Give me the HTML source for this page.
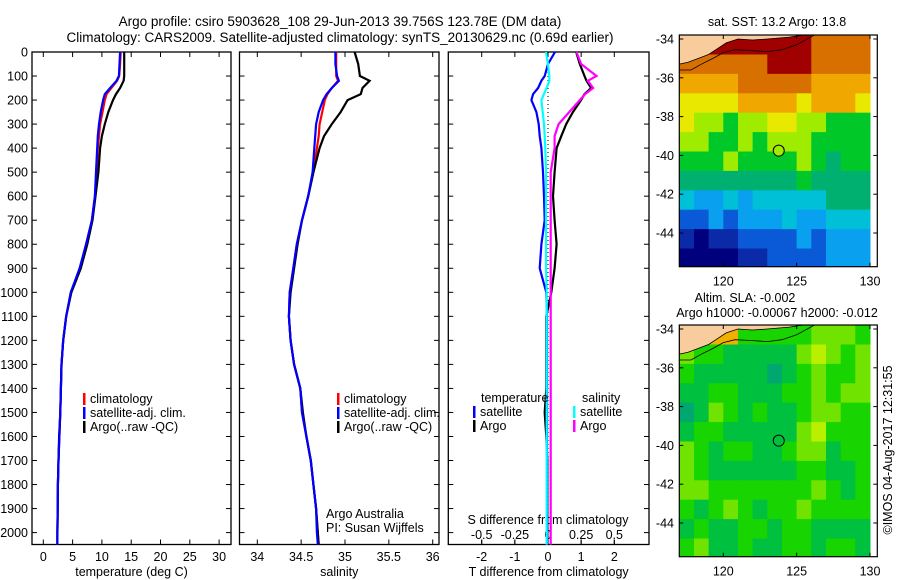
<!DOCTYPE html>
<html><head><meta charset="utf-8">
<style>
html,body{margin:0;padding:0;background:#fff;}
svg{display:block;font-family:"Liberation Sans",sans-serif;}
text{font-size:12.5px;fill:#000;}
</style></head>
<body>
<svg id="fig" width="900" height="580" viewBox="0 0 900 580">
<text x="340" y="26" text-anchor="middle" style="font-size:13.5px">Argo profile: csiro 5903628_108 29-Jun-2013 39.756S 123.78E (DM data)</text>
<text x="340" y="42" text-anchor="middle" style="font-size:13.5px">Climatology: CARS2009. Satellite-adjusted climatology: synTS_20130629.nc (0.69d earlier)</text>
<g id="g1"></g>
<g id="g2"></g>
<g id="g3"></g>
<g id="m1"></g>
<g id="m2"></g>
<text transform="translate(892,450) rotate(-90)" text-anchor="middle">©IMOS 04-Aug-2017 12:31:55</text>
</svg>
<script>
// ---- profile data ----
const depths = [0,50,100,120,150,175,200,250,300,350,400,500,600,700,800,900,1000,1100,1200,1300,1400,1500,1600,1700,1800,1900,2000,2050];
const tempClim = [13.2,13.1,12.95,12.6,11.6,10.8,10.5,10.1,9.7,9.5,9.3,9.1,8.8,8.3,7.3,6.3,4.7,3.9,3.4,3.1,3.0,2.9,2.75,2.6,2.5,2.45,2.4,2.4];
const tempSat  = [13.1,13.0,12.9,12.5,11.4,10.5,10.2,9.8,9.5,9.3,9.2,9.0,8.8,8.3,7.3,6.2,4.7,3.9,3.4,3.1,3.0,2.9,2.75,2.6,2.5,2.45,2.4,2.4];
const tempArgo = [13.8,13.8,13.8,13.7,13.1,12.4,11.9,11.1,10.5,10.0,9.7,9.4,8.9,8.4,7.5,6.4,4.8,3.9,3.4,3.1,3.0,2.9,2.7,2.6,2.5,2.45,2.4,2.4];
const salClim  = [34.90,34.90,34.90,34.92,34.85,34.80,34.77,34.74,34.71,34.70,34.68,34.64,34.58,34.51,34.45,34.41,34.37,34.36,34.38,34.42,34.49,34.51,34.56,34.61,34.64,34.67,34.69,34.70];
const salSat   = [34.89,34.89,34.91,34.93,34.85,34.79,34.75,34.70,34.67,34.66,34.65,34.63,34.58,34.51,34.45,34.41,34.37,34.36,34.38,34.42,34.49,34.51,34.56,34.61,34.64,34.67,34.68,34.69];
const salArgo  = [35.11,35.15,35.17,35.28,35.20,35.18,35.03,34.95,34.85,34.76,34.71,34.64,34.58,34.51,34.46,34.42,34.38,34.36,34.38,34.42,34.49,34.52,34.56,34.61,34.64,34.67,34.69,34.70];
const dTsat  = [0.21,0,-0.1,-0.2,-0.3,-0.45,-0.5,-0.35,-0.28,-0.25,-0.2,-0.15,-0.12,-0.1,-0.2,-0.25,-0.05,-0.03,-0.03,-0.03,-0.03,-0.03,-0.03,-0.03,-0.03,-0.03,-0.03,-0.03];
const dTargo = [0.85,0.96,1.1,1.16,1.3,1.1,1.0,0.75,0.55,0.4,0.26,0.2,0.15,0.2,0.26,0.2,0.1,-0.05,-0.05,-0.05,-0.05,-0.1,-0.05,-0.02,-0.02,-0.02,-0.02,-0.02];
const dSsat  = [-0.015,0,0.01,0.01,-0.01,-0.03,-0.05,-0.04,-0.03,-0.025,-0.02,-0.015,-0.015,-0.015,-0.015,-0.015,-0.01,-0.01,-0.01,-0.01,-0.01,-0.01,-0.01,-0.01,-0.01,-0.01,-0.01,-0.01];
const dSargo = [0.215,0.25,0.366,0.30,0.34,0.28,0.24,0.16,0.08,0.05,0.05,0.02,0.02,0.02,0.02,0.02,0.02,0.02,0.02,0.02,0.02,0.02,0.02,0.02,0.02,0.02,0.02,0.02];
const depthTicks = [0,100,200,300,400,500,600,700,800,900,1000,1100,1200,1300,1400,1500,1600,1700,1800,1900,2000];
const tempTicks = [0,5,10,15,20,25,30];
const salTicks = [34,34.5,35,35.5,36];
const dTTicks = [-2,-1,0,1,2];
const dSTicks = [-0.5,-0.25,0,0.25,0.5];
const dSTickLabels = ["-0.5","-0.25","0","0.25","0.5"];
// ---- map data (colour indices, 1-degree cells from 117E, 33.8S) ----
const sstRows = [
[11,11,11,11,11,11,11,11,11,10,10,10,10],
[10,10,10,10,10,10,11,11,11,10,10,10,10],
[9,9,9,9,10,10,10,10,10,9,9,9,9],
[8,8,8,8,9,9,9,9,8,9,9,9,8],
[8,7,7,6,7,7,8,8,7,7,6,6,6],
[7,7,6,6,7,6,7,7,7,6,6,6,6],
[6,6,6,7,6,6,6,6,7,6,5,6,6],
[5,5,5,5,5,5,5,5,6,5,5,5,5],
[4,3,3,4,3,4,4,4,4,4,5,5,5],
[2,2,3,2,3,3,3,4,3,3,4,4,4],
[1,0,1,1,2,2,2,2,3,2,3,3,3],
[0,0,0,0,1,1,2,2,2,2,3,3,3]];
const slaRows = [
[5,5,5,5,2,2,2,2,2,3,3,3,2],
[3,2,2,1,1,1,1,1,3,4,3,2,3],
[2,1,1,1,1,1,0,1,2,3,2,2,3],
[1,1,2,2,1,1,1,2,2,3,2,3,3],
[0,1,3,2,1,2,1,1,2,3,3,2,2],
[1,2,2,1,1,1,1,1,3,4,2,2,2],
[3,2,1,2,2,1,1,2,3,3,1,2,2],
[3,2,1,1,1,1,1,1,2,2,1,1,2],
[3,3,2,2,2,2,2,2,2,3,2,1,2],
[2,1,2,3,2,1,2,2,3,2,2,2,2],
[1,2,1,1,2,2,1,2,2,1,1,1,1],
[2,3,1,1,2,1,1,2,2,1,2,2,1]];
const sstPalette = ["#00007f","#0a2aa8","#0a5ad8","#0aa0f0","#00c0d8","#00b070","#00c828","#a0ec00","#e8e800","#f0a800","#d87000","#a00000"];
const slaPalette = ["#00a870","#00c040","#18d400","#70e400","#b8f000","#f0b000"];
const mapLonTicks = [120,125,130];
const mapLatTicks = [-34,-36,-38,-40,-42,-44];
const argoLon = 123.78, argoLat = -39.756;
const landLon = [117,117,117.6,118.3,119,119.6,120.2,121,122,123,124.5,125.4];
const landLat = [-33.8,-35.3,-35.2,-35.0,-34.8,-34.5,-34.2,-34.0,-34.05,-34.0,-33.9,-33.8];
const contLon = [117,117.8,118.5,119.3,120,120.8,122,123,124,125,126.2];
const contLat = [-35.6,-35.6,-35.3,-35.0,-34.7,-34.55,-34.6,-34.65,-34.55,-34.3,-33.8];

const NS='http://www.w3.org/2000/svg';
function mk(parent,tag,attrs){const e=document.createElementNS(NS,tag);for(const k in attrs)e.setAttribute(k,attrs[k]);parent.appendChild(e);return e;}
const Y0=52, YK=0.2403;
function yD(d){return Y0+d*YK;}

function panel(g,x0,x1,fx,xt,xlabels,xtitle){
  const r=mk(g,'rect',{x:x0,y:52,width:x1-x0,height:492.5,fill:'none',stroke:'#000','stroke-width':1.3});
  
  
  depthTicks.forEach(d=>{
    mk(g,'line',{x1:x0,x2:x0+5,y1:yD(d),y2:yD(d),stroke:'#000'});
    mk(g,'line',{x1:x1-5,x2:x1,y1:yD(d),y2:yD(d),stroke:'#000'});
  });
  xt.forEach((v,i)=>{
    const x=fx(v);
    mk(g,'line',{x1:x,x2:x,y1:52,y2:57,stroke:'#000'});
    mk(g,'line',{x1:x,x2:x,y1:539.5,y2:544.5,stroke:'#000'});
    const t=mk(g,'text',{x:x,y:561,'text-anchor':'middle'});t.textContent=xlabels[i];
    
    
  });
  const tt=mk(g,'text',{x:(x0+x1)/2,y:576,'text-anchor':'middle'});tt.textContent=xtitle;
  
  
}
function line(g,fx,vals,color,w,name){
  const pts=vals.map((v,i)=>fx(v).toFixed(1)+','+yD(depths[i]).toFixed(1)).join(' ');
  const p=mk(g,'polyline',{points:pts,fill:'none',stroke:color,'stroke-width':w});
  
  
}
function legend(g,x,y,color,label,name){
  mk(g,'rect',{x:x,y:y-10,width:2.5,height:12,fill:color});
  const t=mk(g,'text',{x:x+7,y:y});t.textContent=label;
  
  
}
// y tick labels
const svg=document.getElementById('fig');
depthTicks.forEach(d=>{const t=mk(svg,'text',{x:28,y:yD(d)+4.5,'text-anchor':'end'});t.textContent=d;
  
  });

// Temperature
const g1=document.getElementById('g1');
const fT=v=>43.3+v*5.86;
panel(g1,32,231,fT,tempTicks,tempTicks.map(String),'temperature (deg C)');
line(g1,fT,tempClim,'#f00',2.2,'temp-climatology-line');
line(g1,fT,tempArgo,'#000',2.2,'temp-argo-line');
line(g1,fT,tempSat,'#00f',2.2,'temp-satellite-line');
legend(g1,83,403,'#f00','climatology','legend-climatology');
legend(g1,83,417,'#00f','satellite-adj. clim.','legend-satellite');
legend(g1,83,431,'#000','Argo(..raw -QC)','legend-argo');

// Salinity
const g2=document.getElementById('g2');
const fS=v=>257.3+(v-34)*87.7;
panel(g2,239.5,439,fS,salTicks,salTicks.map(String),'salinity');
line(g2,fS,salClim,'#f00',2.2,'sal-climatology-line');
line(g2,fS,salArgo,'#000',2.2,'sal-argo-line');
line(g2,fS,salSat,'#00f',2.2,'sal-satellite-line');
legend(g2,337,403,'#f00','climatology','legend-climatology');
legend(g2,337,417,'#00f','satellite-adj. clim.','legend-satellite');
legend(g2,337,431,'#000','Argo(..raw -QC)','legend-argo');
[['Argo Australia',518],['PI: Susan Wijffels',532]].forEach(a=>{const t=mk(g2,'text',{x:326,y:a[1]});t.textContent=a[0];
  
  });

// Differences
const g3=document.getElementById('g3');
const fdT=v=>548+v*33.15;
const fdS=v=>548+v*132.6;
panel(g3,448.3,649,fdT,dTTicks,dTTicks.map(String),'T difference from climatology');
dSTicks.forEach((v,i)=>{const x=fdS(v);
  mk(g3,'line',{x1:x,x2:x,y1:539.5,y2:544.5,stroke:'#000'});
  const t=mk(g3,'text',{x:x,y:539,'text-anchor':'middle'});t.textContent=dSTickLabels[i];
  
  });
const st=mk(g3,'text',{x:548,y:524,'text-anchor':'middle'});st.textContent='S difference from climatology';


const zl=mk(g3,'line',{x1:548,x2:548,y1:52,y2:544,stroke:'#000','stroke-dasharray':'1,3'});


line(g3,fdT,dTargo,'#000',2.2,'dT-argo-line');
line(g3,fdS,dSargo,'#f0f',2.2,'dS-argo-line');
line(g3,fdT,dTsat,'#00f',2.2,'dT-satellite-line');
line(g3,fdS,dSsat,'#0ff',2.2,'dS-satellite-line');
[['temperature',481,402],['salinity',582,402]].forEach(a=>{const t=mk(g3,'text',{x:a[1],y:a[2]});t.textContent=a[0];
  
  });
legend(g3,473,416,'#00f','satellite','legend-t-satellite');
legend(g3,473,430,'#000','Argo','legend-t-argo');
legend(g3,573,416,'#0ff','satellite','legend-s-satellite');
legend(g3,573,430,'#f0f','Argo','legend-s-argo');

// Maps
function map(id,top,rows,pal,circFill,titles){
  const g=document.getElementById(id);
  const L=679.3,R=877.3,bot=top+231.7;
  const fx=lon=>723.3+(lon-120)*14.67;
  const fy=lat=>top+4+(-34-lat)*19.4;
  const cp=mk(g,'clipPath',{id:'c'+id});mk(cp,'rect',{x:L,y:top,width:R-L,height:bot-top});
  const cells=mk(g,'g',{'clip-path':'url(#c'+id+')'});
  rows.forEach((row,r)=>row.forEach((v,c)=>{
    const x=fx(117+c), y=fy(-33.8-r);
    const cell=mk(cells,'rect',{x:x.toFixed(1),y:y.toFixed(1),width:15.2,height:20,fill:pal[v]});
    
    
  }));
  const land=landLon.map((v,i)=>fx(v).toFixed(1)+','+fy(landLat[i]).toFixed(1)).join(' ');
  mk(cells,'polygon',{points:land,fill:'#f9cc9e',stroke:'#000','stroke-width':0.8});
  const cont=contLon.map((v,i)=>fx(v).toFixed(1)+','+fy(contLat[i]).toFixed(1)).join(' ');
  mk(cells,'polyline',{points:cont,fill:'none',stroke:'#000','stroke-width':0.8});
  const fr=mk(g,'rect',{x:L,y:top,width:R-L,height:bot-top,fill:'none',stroke:'#000','stroke-width':1.2});
  
  
  mapLonTicks.forEach(v=>{const x=fx(v);
    mk(g,'line',{x1:x,x2:x,y1:top,y2:top+4,stroke:'#000'});
    mk(g,'line',{x1:x,x2:x,y1:bot-4,y2:bot,stroke:'#000'});
    const t=mk(g,'text',{x:x,y:bot+19,'text-anchor':'middle'});t.textContent=v;
    
    });
  mapLatTicks.forEach(v=>{const y=fy(v);
    mk(g,'line',{x1:L,x2:L+4,y1:y,y2:y,stroke:'#000'});
    mk(g,'line',{x1:R-4,x2:R,y1:y,y2:y,stroke:'#000'});
    const t=mk(g,'text',{x:674,y:y+4.5,'text-anchor':'end'});t.textContent=v;
    
    });
  const c=mk(g,'circle',{cx:fx(argoLon),cy:fy(argoLat),r:5.5,fill:circFill,stroke:'#000','stroke-width':1});
  
  
  titles.forEach(a=>{const t=mk(g,'text',{x:a[1],y:a[2],'text-anchor':'middle'});t.textContent=a[0];
    
    });
}
map('m1',35,sstRows,sstPalette,'#a0ec00',[['sat. SST: 13.2 Argo: 13.8',777,26]]);
map('m2',325,slaRows,slaPalette,'none',[['Altim. SLA: -0.002',745,302],['Argo h1000: -0.00067 h2000: -0.012',777,317]]);
</script>
</body></html>
